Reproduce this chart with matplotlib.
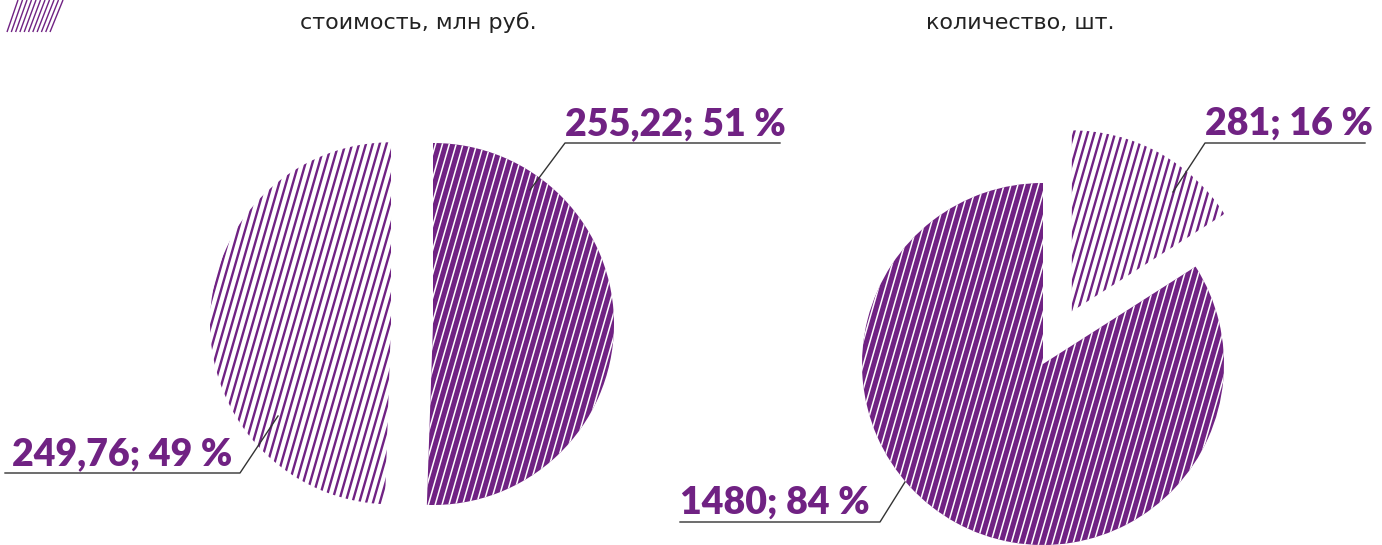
import numpy as np
import matplotlib
matplotlib.use('Agg')
from matplotlib import pyplot as plt
from matplotlib.collections import LineCollection

# data
titles = ['стоимость, млн руб.', 'количество, шт.']
cost_vals = [255.22, 249.76]
cost_labels = ['255,22; 51 %', '249,76; 49 %']
count_vals = [1480, 281]
count_labels = ['1480; 84 %', '281; 16 %']

PURPLE = '#702283'
W, H = 1382, 545

plt.rcParams['font.family'] = ['Lato', 'Open Sans', 'DejaVu Sans']

fig = plt.figure(figsize=(W / 100, H / 100), dpi=100)
ax = fig.add_axes([0, 0, 1, 1])


def stripes(ax, wedge, color, lw, step=6.6, angle=74):
    # parallel slanted lines clipped to the wedge
    cx, cy = wedge.center
    r = wedge.r
    a = np.radians(angle)
    d = np.array([np.cos(a), np.sin(a)])
    n = np.array([np.sin(a), -np.cos(a)])
    segs = []
    for k in np.arange(-r * 1.5, r * 1.5, step):
        p = np.array([cx, cy]) + n * k
        segs.append([p - d * 2 * r, p + d * 2 * r])
    lc = LineCollection(segs, colors=color, linewidths=lw)
    ax.add_collection(lc)
    lc.set_clip_path(wedge)


# left pie: cost
w1, _ = ax.pie(cost_vals, center=(433, 221), radius=181, startangle=90,
               counterclock=False, explode=[0, 42], frame=True)
# right pie: count
w2, _ = ax.pie(count_vals, center=(1043, 181), radius=181, startangle=90,
               counterclock=True, explode=[0, 60], frame=True)
ax.set_xlim(0, W)
ax.set_ylim(0, H)
ax.set_aspect('equal')
ax.axis('off')

for dark, light in [(w1[0], w1[1]), (w2[0], w2[1])]:
    dark.set_facecolor(PURPLE)
    dark.set_edgecolor('none')
    stripes(ax, dark, 'white', 1.1)
    light.set_facecolor('white')
    light.set_edgecolor('none')
    stripes(ax, light, PURPLE, 1.7)

# leader lines and labels
leaders = [
    ([530, 565, 780], [355, 402, 402], 565, 410, cost_labels[0]),
    ([278, 240, 5], [129, 72, 72], 12, 80, cost_labels[1]),
    ([1173, 1205, 1365], [353, 402, 402], 1205, 410, count_labels[1]),
    ([905, 880, 680], [63, 23, 23], 680, 31, count_labels[0]),
]
for xs, ys, tx, ty, lab in leaders:
    ax.plot(xs, ys, color='#333333', lw=1.0)
    ax.text(tx, ty, lab, color=PURPLE, fontsize=27, fontweight='heavy',
            ha='left', va='baseline')

ax.text(418, 522, titles[0], fontsize=16, ha='center', va='center',
        color='#222222', family=['DejaVu Sans'])
ax.text(1020, 522, titles[1], fontsize=16, ha='center', va='center',
        color='#222222', family=['DejaVu Sans'])

# corner logo
logo = [[(7 + 4.3 * i, H - 32), (18 + 4.5 * i, H)] for i in range(11)]
lc = LineCollection(logo, colors=PURPLE, linewidths=1.0)
ax.add_collection(lc)

fig.savefig('out.png', dpi=100)
